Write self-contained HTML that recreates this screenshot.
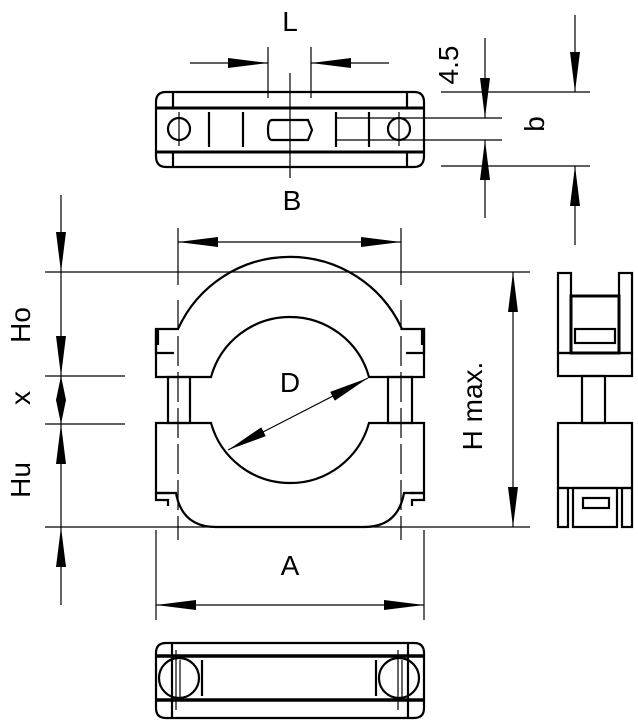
<!DOCTYPE html>
<html><head><style>body{margin:0;background:#fff}svg{display:block}text{font-family:"Liberation Sans",sans-serif;fill:#000}</style></head>
<body>
<svg width="638" height="720" viewBox="0 0 638 720" xmlns="http://www.w3.org/2000/svg">
<defs>
<marker id="a" viewBox="0 0 40 10" refX="40" refY="5" markerWidth="40" markerHeight="10" markerUnits="userSpaceOnUse" orient="auto-start-reverse"><path d="M0,0 L40,5 L0,10z" fill="#000"/></marker>
<marker id="s" viewBox="0 0 24 10" refX="24" refY="5" markerWidth="24" markerHeight="10" markerUnits="userSpaceOnUse" orient="auto-start-reverse"><path d="M0,0 L24,5 L0,10z" fill="#000"/></marker>
</defs>
<g fill="none" stroke="#000" stroke-width="1.2">
<!-- top view -->
<line x1="268" y1="47" x2="268" y2="98"/><line x1="311" y1="47" x2="311" y2="98"/>
<line x1="190" y1="63" x2="268" y2="63" marker-end="url(#a)"/>
<line x1="389" y1="63" x2="311" y2="63" marker-end="url(#a)"/>
<line x1="290" y1="73" x2="290" y2="178"/>
<g stroke-width="2.2">
<path d="M166,92 H414 Q424,92 424,102 V156 Q424,167 414,167 H166 Q156,167 156,156 V102 Q156,92 166,92 Z"/>
<line x1="156" y1="108" x2="424" y2="108" stroke-width="3"/>
<line x1="156" y1="152" x2="424" y2="152" stroke-width="3"/>
<line x1="173" y1="92" x2="173" y2="108"/><line x1="407" y1="92" x2="407" y2="108"/>
<line x1="173" y1="152" x2="173" y2="167"/><line x1="407" y1="152" x2="407" y2="167"/>
<circle cx="179" cy="129" r="11"/><circle cx="399" cy="129" r="11"/>
<path d="M272,120 H308 L312,130 L308,140 H272 Q268,140 268,130 Q268,120 272,120Z"/>
<line x1="209" y1="112" x2="209" y2="147"/><line x1="243" y1="112" x2="243" y2="147"/>
<line x1="336" y1="112" x2="336" y2="147"/><line x1="369" y1="112" x2="369" y2="147"/>
</g>
<line x1="179" y1="112" x2="179" y2="146"/><line x1="399" y1="112" x2="399" y2="146"/>
<line x1="336" y1="118" x2="502" y2="118"/><line x1="336" y1="140" x2="502" y2="140"/>
<line x1="441" y1="92" x2="590" y2="92"/><line x1="441" y1="166" x2="590" y2="166"/>
<line x1="485" y1="38" x2="485" y2="118" marker-end="url(#a)"/>
<line x1="485" y1="218" x2="485" y2="140" marker-end="url(#a)"/>
<line x1="575" y1="15" x2="575" y2="92" marker-end="url(#a)"/>
<line x1="575" y1="245" x2="575" y2="166" marker-end="url(#a)"/>
<!-- main view dims -->
<line x1="45" y1="272" x2="530" y2="272"/><line x1="45" y1="527" x2="530" y2="527"/>
<line x1="45" y1="376" x2="125" y2="376"/><line x1="45" y1="424" x2="125" y2="424"/>
<line x1="178" y1="228" x2="178" y2="285"/><line x1="401" y1="228" x2="401" y2="285"/>
<line x1="178" y1="242" x2="401" y2="242" marker-start="url(#a)" marker-end="url(#a)"/>
<line x1="513" y1="272" x2="513" y2="527" marker-start="url(#a)" marker-end="url(#a)"/>
<line x1="61" y1="195" x2="61" y2="272" marker-end="url(#a)"/>
<line x1="61" y1="272" x2="61" y2="376" marker-end="url(#a)"/>
<line x1="61" y1="400" x2="61" y2="376" marker-end="url(#s)"/>
<line x1="61" y1="400" x2="61" y2="424" marker-end="url(#s)"/>
<line x1="61" y1="527" x2="61" y2="424" marker-end="url(#a)"/>
<line x1="61" y1="605" x2="61" y2="527" marker-end="url(#a)"/>
<line x1="156" y1="530" x2="156" y2="620"/><line x1="424" y1="530" x2="424" y2="620"/>
<line x1="156" y1="605" x2="424" y2="605" marker-start="url(#a)" marker-end="url(#a)"/>
<line x1="178" y1="300" x2="178" y2="540" stroke-dasharray="30,6"/>
<line x1="401" y1="300" x2="401" y2="540" stroke-dasharray="30,6"/>
<!-- main body -->
<g stroke-width="2.2">
<path d="M156,377 H211 A82,82 0 0 1 369,377 H424 V329 H402 A123,123 0 0 0 178,329 H156 Z"/>
<path d="M156,329 V353 H174 M424,329 V353 H406 M158,329 V345 M422,329 V345"/>
<path d="M156,423 H211 A82,82 0 0 0 369,423 H424 V493 H404 Q398,527 364,527 H216 Q182,527 176,493 H156 Z"/>
<path d="M156,493 V500 H168 V506 M424,493 V500 H412 V506 M156,493 H170 M424,493 H410"/>
<rect x="168" y="377" width="22" height="46"/><rect x="388" y="377" width="24" height="46"/>
</g>
<line x1="228" y1="450" x2="368" y2="378" marker-start="url(#a)" marker-end="url(#a)"/>
<!-- side view -->
<g stroke-width="2.2">
<rect x="558" y="273" width="13" height="80"/><rect x="619" y="273" width="13" height="80"/>
<rect x="571" y="296" width="48" height="57" stroke-width="3"/>
<rect x="575" y="329" width="40" height="14"/>
<rect x="558" y="353" width="74" height="23"/>
<rect x="582" y="376" width="23" height="47"/>
<rect x="558" y="423" width="74" height="65"/>
<rect x="558" y="488" width="10" height="39"/><rect x="622" y="488" width="10" height="39"/>
<rect x="573" y="488" width="44" height="39"/>
<rect x="583" y="498" width="26" height="10"/>
</g>
<!-- bottom view -->
<g stroke-width="2.2">
<path d="M166,643 H414 Q424,643 424,653 V708 Q424,718 414,718 H166 Q156,718 156,708 V653 Q156,643 166,643 Z"/>
<line x1="156" y1="656" x2="424" y2="656" stroke-width="3.5"/>
<line x1="156" y1="700" x2="424" y2="700" stroke-width="3.5"/>
<line x1="172" y1="643" x2="172" y2="718"/><line x1="408" y1="643" x2="408" y2="718"/>
<circle cx="179" cy="678" r="20"/><circle cx="399" cy="678" r="20"/>
<line x1="202" y1="660" x2="202" y2="696"/><line x1="376" y1="660" x2="376" y2="696"/>
</g>
<line x1="176" y1="650" x2="176" y2="710"/><line x1="180" y1="660" x2="180" y2="700"/>
<line x1="398" y1="650" x2="398" y2="710"/><line x1="402" y1="660" x2="402" y2="700"/>
</g>
<g font-size="28">
<text x="290" y="31" text-anchor="middle">L</text>
<text x="292" y="210" text-anchor="middle">B</text>
<text x="290" y="392" text-anchor="middle">D</text>
<text x="290" y="575" text-anchor="middle">A</text>
<text transform="translate(458,65) rotate(-90)" text-anchor="middle">4.5</text>
<text transform="translate(544,124) rotate(-90)" text-anchor="middle">b</text>
<text transform="translate(482,406) rotate(-90)" text-anchor="middle">H max.</text>
<text transform="translate(30,325) rotate(-90)" text-anchor="middle">Ho</text>
<text transform="translate(30,398) rotate(-90)" text-anchor="middle">x</text>
<text transform="translate(30,480) rotate(-90)" text-anchor="middle">Hu</text>
</g>
</svg>
</body></html>
